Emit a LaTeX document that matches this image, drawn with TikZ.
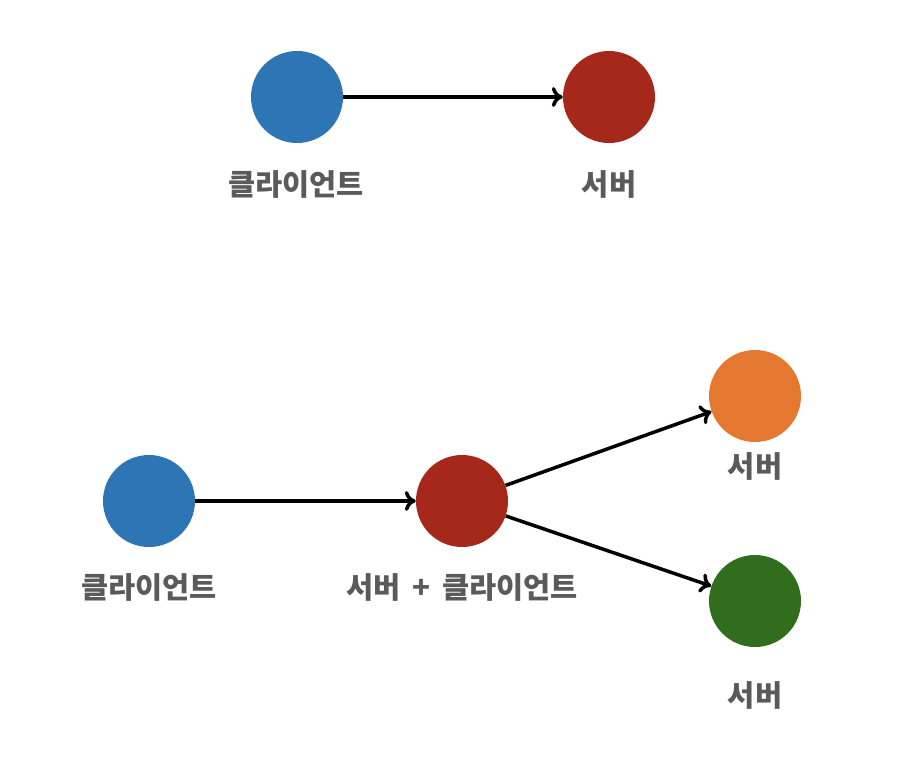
\documentclass[tikz,border=0pt]{standalone}
\usepackage{fontspec}
\newfontfamily\kr{Noto Sans CJK KR}
\usetikzlibrary{arrows.meta}
\definecolor{cblue}{RGB}{46,117,182}
\definecolor{cred}{RGB}{165,40,26}
\definecolor{corange}{RGB}{228,120,48}
\definecolor{cgreen}{RGB}{48,110,30}
\definecolor{ctext}{RGB}{90,90,90}
\tikzset{
  dot/.style={circle, minimum size=92pt, inner sep=0pt, fill=#1},
  lbl/.style={text=ctext, font=\kr\bfseries\fontsize{29.5}{34}\selectfont, inner sep=0pt},
  conn/.style={line width=3.5pt, -{To[length=11pt,width=20pt,line width=3.5pt]}}
}
\begin{document}
\begin{tikzpicture}[x=1pt,y=-1pt]
\useasboundingbox (0,0) rectangle (918,756);
% top
\node[dot=cblue] (c1) at (297,97) {};
\node[dot=cred] (s1) at (609,97) {};
\node[lbl] (lc1) at (296,184) {클라이언트};
\node[lbl] (ls1) at (609,184) {서버};
\draw[conn] (c1) -- (s1);
% bottom
\node[dot=cblue] (c2) at (149,501) {};
\node[dot=cred] (m2) at (462,501) {};
\node[dot=corange] (o2) at (755,396) {};
\node[dot=cgreen] (g2) at (755,601) {};
\node[lbl] (lc2) at (149,587) {클라이언트};
\node[lbl] (lm2) at (462,587) {서버\hspace{0.4em}+\hspace{0.4em}클라이언트};
\node[lbl] (lo2) at (755,466) {서버};
\node[lbl] (lg2) at (755,695) {서버};
\draw[conn] (c2) -- (m2);
\draw[conn] (m2) -- (o2);
\draw[conn] (m2) -- (g2);
\end{tikzpicture}
\end{document}
